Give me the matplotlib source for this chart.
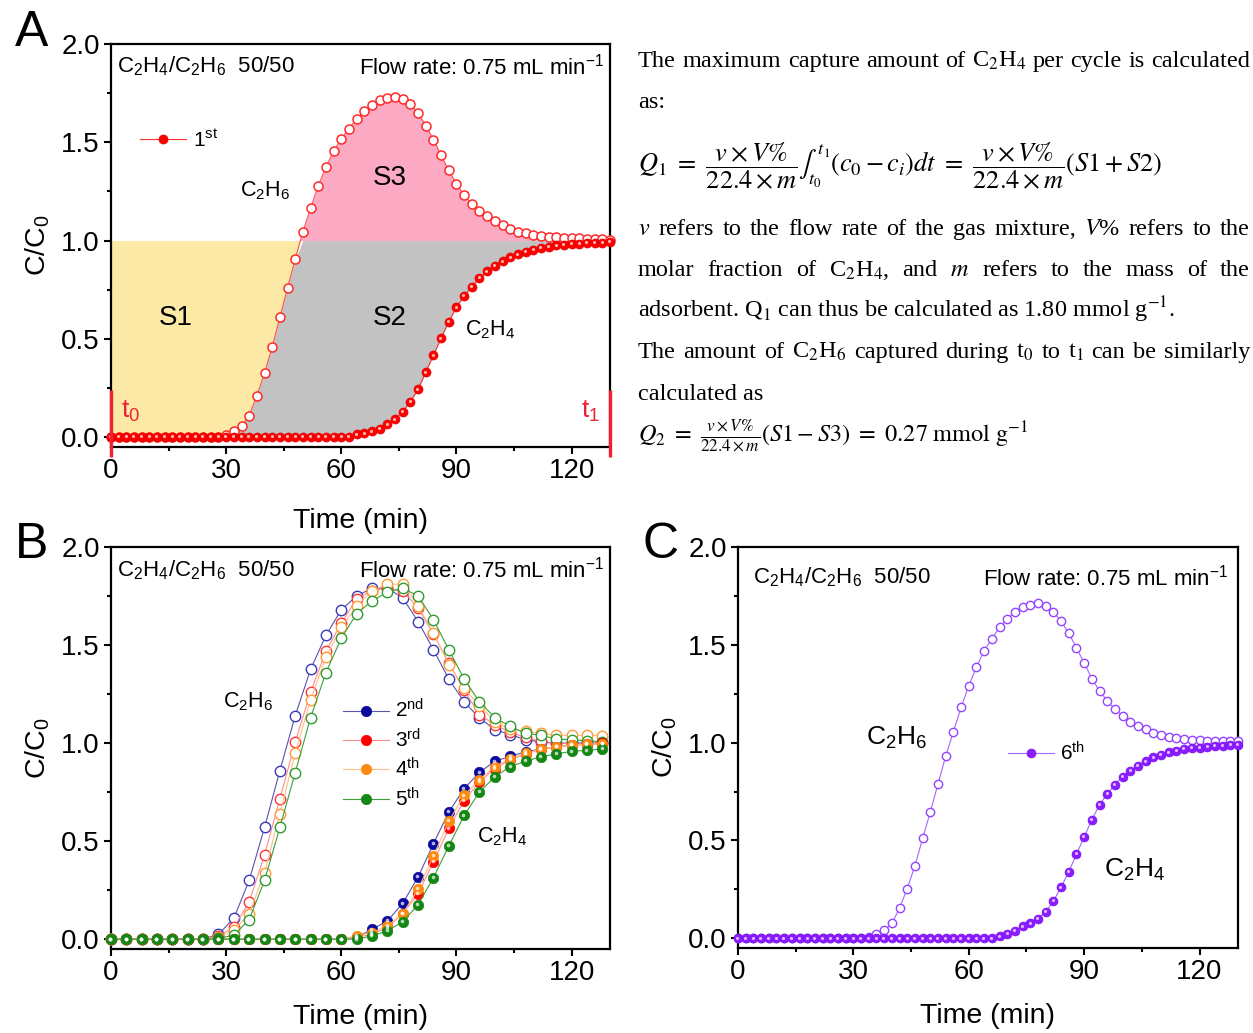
import matplotlib
matplotlib.use("Agg")
import matplotlib.pyplot as plt
import numpy as np
from matplotlib.ticker import MultipleLocator, FormatStrFormatter
from matplotlib.transforms import offset_copy

plt.rcParams['font.family'] = ['Liberation Sans', 'DejaVu Sans']
plt.rcParams['mathtext.fontset'] = 'custom'
plt.rcParams['mathtext.rm'] = 'Liberation Sans'
plt.rcParams['mathtext.it'] = 'Liberation Sans:italic'
plt.rcParams['mathtext.bf'] = 'Liberation Sans:bold'

# ---- panel A : 1st cycle (every 2 min)
time_a = [0, 2, 4, 6, 8, 10, 12, 14, 16, 18, 20, 22, 24, 26, 28, 30, 32, 34, 36, 38,
          40, 42, 44, 46, 48, 50, 52, 54, 56, 58, 60, 62, 64, 66, 68, 70, 72, 74, 76, 78,
          80, 82, 84, 86, 88, 90, 92, 94, 96, 98, 100, 102, 104, 106, 108, 110, 112, 114,
          116, 118, 120, 122, 124, 126, 128, 130]
c2h6_a = [0, 0, 0, 0, 0, 0, 0, 0, 0, 0, 0, 0, 0, 0, 0.003, 0.01, 0.03, 0.056, 0.11, 0.21,
          0.325, 0.46, 0.61, 0.76, 0.906, 1.046, 1.165, 1.28, 1.374, 1.456, 1.517, 1.57,
          1.62, 1.658, 1.692, 1.714, 1.726, 1.731, 1.719, 1.694, 1.65, 1.585, 1.514, 1.434,
          1.357, 1.289, 1.23, 1.187, 1.153, 1.124, 1.099, 1.08, 1.06, 1.046, 1.037, 1.029,
          1.022, 1.019, 1.017, 1.014, 1.013, 1.012, 1.01, 1.01, 1.007, 1.004]
c2h4_a = [0, 0, 0, 0, 0, 0, 0, 0, 0, 0, 0, 0, 0, 0, 0, 0, 0, 0, 0, 0,
          0, 0, 0, 0, 0, 0, 0, 0, 0, 0, 0, 0.003, 0.014, 0.02, 0.03, 0.044, 0.065, 0.09,
          0.13, 0.18, 0.243, 0.33, 0.417, 0.503, 0.588, 0.66, 0.718, 0.765, 0.81, 0.843,
          0.872, 0.895, 0.915, 0.93, 0.944, 0.954, 0.963, 0.969, 0.976, 0.98, 0.983, 0.985,
          0.988, 0.99, 0.99, 0.992]
t_marks = [0, 130]

# ---- panel B : cycles 2-5 (every 4 min)
time_b = [0, 4, 8, 12, 16, 20, 24, 28, 32, 36, 40, 44, 48, 52, 56, 60, 64, 68, 72, 76,
          80, 84, 88, 92, 96, 100, 104, 108, 112, 116, 120, 124, 128]
c2h6_b = {
    '2nd': [0, 0, 0, 0, 0, 0, 0, 0.025, 0.107, 0.30, 0.57, 0.86, 1.14, 1.376, 1.55, 1.68,
            1.75, 1.79, 1.79, 1.74, 1.62, 1.476, 1.327, 1.21, 1.128, 1.069, 1.043, 1.018,
            1.005, 1.0, 1.0, 1.0, 1.0],
    '3rd': [0, 0, 0, 0, 0, 0, 0, 0.017, 0.06, 0.19, 0.43, 0.715, 1.005, 1.26, 1.47, 1.61,
            1.737, 1.777, 1.79, 1.775, 1.69, 1.556, 1.41, 1.27, 1.145, 1.094, 1.055, 1.03,
            1.01, 1.0, 0.995, 0.995, 1.0],
    '4th': [0, 0, 0, 0, 0, 0, 0, 0.01, 0.045, 0.13, 0.34, 0.64, 0.95, 1.22, 1.44, 1.59,
            1.70, 1.777, 1.81, 1.81, 1.70, 1.56, 1.40, 1.28, 1.19, 1.11, 1.07, 1.06, 1.05,
            1.04, 1.04, 1.04, 1.038],
    '5th': [0, 0, 0, 0, 0, 0, 0, 0.005, 0.02, 0.10, 0.30, 0.57, 0.85, 1.13, 1.36, 1.535,
            1.66, 1.725, 1.77, 1.79, 1.75, 1.63, 1.476, 1.327, 1.21, 1.13, 1.085, 1.05,
            1.04, 1.02, 1.018, 1.012, 1.006],
}
c2h4_b = {
    '2nd': [0, 0, 0, 0, 0, 0, 0, 0, 0, 0, 0, 0, 0, 0, 0, 0, 0.01, 0.05, 0.093, 0.183,
            0.317, 0.487, 0.648, 0.768, 0.851, 0.907, 0.933, 0.955, 0.97, 0.98, 0.99,
            0.995, 0.998],
    '3rd': [0, 0, 0, 0, 0, 0, 0, 0, 0, 0, 0, 0, 0, 0, 0, 0, 0.01, 0.025, 0.06, 0.13,
            0.232, 0.394, 0.565, 0.707, 0.802, 0.87, 0.915, 0.945, 0.968, 0.98, 0.99,
            0.995, 0.998],
    '4th': [0, 0, 0, 0, 0, 0, 0, 0, 0, 0, 0, 0, 0, 0, 0, 0, 0.017, 0.034, 0.068, 0.13,
            0.255, 0.424, 0.602, 0.733, 0.814, 0.88, 0.92, 0.947, 0.97, 0.98, 0.99,
            0.993, 0.996],
    '5th': [0, 0, 0, 0, 0, 0, 0, 0, 0, 0, 0, 0, 0, 0, 0, 0, 0.0, 0.017, 0.042, 0.09,
            0.175, 0.314, 0.475, 0.631, 0.751, 0.828, 0.88, 0.908, 0.93, 0.945, 0.958,
            0.963, 0.97],
}
cycle_labels = ['2nd', '3rd', '4th', '5th']
cycle_tex = {'2nd': r'2$^{\rm nd}$', '3rd': r'3$^{\rm rd}$', '4th': r'4$^{\rm th}$', '5th': r'5$^{\rm th}$'}

# ---- panel C : 6th cycle (every 2 min)
time_c = time_a
c2h6_c = [0, 0, 0, 0, 0, 0, 0, 0, 0, 0, 0, 0, 0, 0, 0, 0, 0, 0.008, 0.022, 0.04,
          0.076, 0.153, 0.254, 0.37, 0.51, 0.645, 0.789, 0.93, 1.056, 1.18, 1.29, 1.386,
          1.47, 1.53, 1.59, 1.634, 1.668, 1.693, 1.705, 1.712, 1.70, 1.668, 1.62, 1.56,
          1.484, 1.408, 1.327, 1.264, 1.213, 1.17, 1.136, 1.106, 1.086, 1.068, 1.051,
          1.038, 1.03, 1.023, 1.018, 1.014, 1.012, 1.009, 1.009, 1.009, 1.009, 1.009]
c2h4_c = [0, 0, 0, 0, 0, 0, 0, 0, 0, 0, 0, 0, 0, 0, 0, 0, 0, 0, 0, 0,
          0, 0, 0, 0, 0, 0, 0, 0, 0, 0, 0, 0, 0, 0, 0.01, 0.022, 0.037, 0.06, 0.076, 0.098,
          0.136, 0.19, 0.26, 0.34, 0.43, 0.517, 0.606, 0.682, 0.738, 0.785, 0.826, 0.857,
          0.882, 0.904, 0.925, 0.938, 0.95, 0.958, 0.967, 0.972, 0.975, 0.979, 0.984,
          0.985, 0.987, 0.987]

colors_b = {'2nd': ('#5555b0', '#0a0a9c', '#3a3ab8'),
            '3rd': ('#ff8c8c', '#ff0000', '#ff3535'),
            '4th': ('#ffbd80', '#ff8a10', '#ff9a35'),
            '5th': ('#3aa03a', '#138613', '#2f9c2f')}

W, H = 1253, 1033
fig = plt.figure(figsize=(W / 100, H / 100), dpi=100)


def style_axis(ax, head_y=0.945, head_l=0.012, head_r=0.988, xpad=17):
    ax.set_xlim(0, 130)
    ax.set_ylim(-0.05, 2.0)
    ax.xaxis.set_major_locator(MultipleLocator(30))
    ax.xaxis.set_minor_locator(MultipleLocator(15))
    ax.yaxis.set_major_locator(MultipleLocator(0.5))
    ax.yaxis.set_minor_locator(MultipleLocator(0.25))
    ax.yaxis.set_major_formatter(FormatStrFormatter('%.1f'))
    ax.tick_params(which='both', direction='out', top=False, right=False, width=1.5,
                   labelsize=20)
    ax.tick_params(which='major', length=5, pad=3)
    ax.tick_params(which='minor', length=3)
    for s in ax.spines.values():
        s.set_linewidth(1.6)
    ax.set_xlabel('Time (min)', fontsize=20.5, labelpad=xpad)
    ax.set_ylabel('C/C$_0$', fontsize=20.5, labelpad=7)
    ax.text(head_l, head_y, 'C$_2$H$_4$/C$_2$H$_6$  50/50', transform=ax.transAxes,
            fontsize=16, va='center', ha='left')
    ax.text(head_r, head_y, 'Flow rate: 0.75 mL min$^{-1}$', transform=ax.transAxes,
            fontsize=16, va='center', ha='right')


def highlight(ax, x, y, ms, z):
    tr = offset_copy(ax.transData, fig=fig, x=-0.5, y=0.5, units='points')
    ax.plot(x, y, 'o', ms=ms * 0.35, mfc='white', mec='none', alpha=0.7,
            transform=tr, zorder=z + 0.1, clip_on=False)


leg_kw = dict(loc='center left', frameon=False, fontsize=15, handlelength=2.2,
              handletextpad=0.3, borderpad=0, borderaxespad=0)

# ---------------- panel A
axA = fig.add_axes([111 / W, 1 - 447 / H, 499 / W, 403 / H])
style_axis(axA)
ta = np.array(time_a)
e6 = np.array(c2h6_a)
e4 = np.array(c2h4_a)
axA.fill_between(ta, e6, 1, where=e6 <= 1, interpolate=True, color='#fce9a6', lw=0, zorder=1)
axA.fill_between(ta, e4, np.minimum(e6, 1), color='#c2c2c2', lw=0, zorder=1)
axA.fill_between(ta, 1, e6, where=e6 >= 1, interpolate=True, color='#fcaac4', lw=0, zorder=1)
axA.plot(ta, e6, '-o', color='#ff5050', lw=0.8, ms=6.5, mfc='white', mec='#ff2a2a',
         mew=1.1, zorder=3, clip_on=False)
axA.plot(ta, e4, '-o', color='#ff3030', lw=0.8, ms=6.5, mfc='#ff0000', mec='#e00000',
         mew=0.5, zorder=4, label=r'1$^{\rm st}$', clip_on=False)
highlight(axA, ta, e4, 6.5, 4)
axA.vlines(t_marks, -0.1, 0.24, color='#ee2233', lw=2.4, clip_on=False, zorder=5)
axA.text(5.0, 0.13, 't$_0$', color='#ee2233', fontsize=19, ha='center', va='center')
axA.text(125.0, 0.13, 't$_1$', color='#ee2233', fontsize=19, ha='center', va='center')
axA.text(40.1, 1.256, 'C$_2$H$_6$', fontsize=15.5, ha='center', va='center')
axA.text(98.7, 0.545, 'C$_2$H$_4$', fontsize=15.5, ha='center', va='center')
axA.text(72.6, 1.32, 'S3', fontsize=20, ha='center', va='center')
axA.text(16.9, 0.605, 'S1', fontsize=20, ha='center', va='center')
axA.text(72.6, 0.605, 'S2', fontsize=20, ha='center', va='center')
axA.legend(bbox_to_anchor=(0.059, 0.762), **leg_kw)

# ---------------- panel B
axB = fig.add_axes([111 / W, 1 - 949 / H, 499 / W, 402 / H])
style_axis(axB, head_y=0.943, xpad=13)
for k in cycle_labels:
    lc, fc, oc = colors_b[k]
    axB.plot(time_b, c2h6_b[k], '-o', color=lc, lw=0.8, ms=7.5, mfc='white', mec=oc,
             mew=1.0, zorder=3, clip_on=False)
for k in cycle_labels:
    lc, fc, oc = colors_b[k]
    axB.plot(time_b, c2h4_b[k], '-o', color=lc, lw=0.8, ms=7.5, mfc=fc, mec=fc,
             mew=0.5, zorder=4, label=cycle_tex[k], clip_on=False)
    highlight(axB, time_b, c2h4_b[k], 7.5, 4)
axB.text(35.7, 1.21, 'C$_2$H$_6$', fontsize=15.5, ha='center', va='center')
axB.text(102, 0.525, 'C$_2$H$_4$', fontsize=15.5, ha='center', va='center')
axB.legend(bbox_to_anchor=(0.465, 0.484), labelspacing=0.3, **leg_kw)

# ---------------- panel C
axC = fig.add_axes([738 / W, 1 - 948 / H, 500 / W, 401 / H])
style_axis(axC, head_y=0.925, head_l=0.03, head_r=0.98, xpad=13)
axC.plot(time_c, c2h6_c, '-o', color='#a565ff', lw=0.8, ms=6.0, mfc='white', mec='#9444ff',
         mew=1.0, zorder=3, clip_on=False)
axC.plot(time_c, c2h4_c, '-o', color='#a565ff', lw=0.8, ms=6.4, mfc='#8a1cff', mec='#7a10f0',
         mew=0.5, zorder=4, label=r'6$^{\rm th}$', clip_on=False)
highlight(axC, time_c, c2h4_c, 6.4, 4)
axC.text(41.1, 1.025, 'C$_2$H$_6$', fontsize=19, ha='center', va='center')
axC.text(103.2, 0.35, 'C$_2$H$_4$', fontsize=19, ha='center', va='center')
axC.legend(bbox_to_anchor=(0.54, 0.487), **leg_kw)

# panel letters
fig.text(32 / W, 1 - 33 / H, 'A', fontsize=36, ha='center', va='center')
fig.text(32 / W, 1 - 545 / H, 'B', fontsize=36, ha='center', va='center')
fig.text(661 / W, 1 - 545 / H, 'C', fontsize=36, ha='center', va='center')

# ---------------- text on the right
renderer = fig.canvas.get_renderer()
serif = dict(family=['Liberation Serif', 'DejaVu Serif'], fontsize=17.5, math_fontfamily='stix',
             va='baseline', ha='left')
X0, X1 = 638, 1250


def line(txt, base):
    return fig.text(X0 / W, 1 - base / H, txt, **serif)


def justified(words, base):
    texts = [fig.text(0, 1 - base / H, w, **serif) for w in words]
    widths = [t.get_window_extent(renderer).width for t in texts]
    gap = (X1 - X0 - sum(widths)) / (len(words) - 1)
    x = X0
    for t, w in zip(texts, widths):
        t.set_x(x / W)
        x += w + gap


justified('The maximum capture amount of C$_2$H$_4$ per cycle is calculated'.split(), 67)
line('as:', 108)
fig.text(X0 / W, 1 - 172 / H,
         r'$Q_1\ =\ \dfrac{v \times V\%}{22.4 \times m}\int_{t_0}^{t_1}(c_0 - c_i)dt'
         r'\ =\ \dfrac{v \times V\%}{22.4 \times m}(S1 + S2)$',
         family='Liberation Serif', fontsize=19, math_fontfamily='stix',
         va='baseline', ha='left')
justified('$v$ refers to the flow rate of the gas mixture, $V$% refers to the'.split(), 235)
justified('molar fraction of C$_2$H$_4$, and $m$ refers to the mass of the'.split(), 276)
line('adsorbent. Q$_1$ can thus be calculated as 1.80 mmol g$^{-1}$.', 317)
justified('The amount of C$_2$H$_6$ captured during t$_0$ to t$_1$ can be similarly'.split(), 358)
line('calculated as', 400)
fig.text(X0 / W, 1 - 442 / H,
         r'$Q_2\ =\ \frac{v \times V\%}{22.4 \times m}(S1 - S3)\ =\ 0.27\ \mathrm{mmol\ g^{-1}}$',
         family='Liberation Serif', fontsize=17.5, math_fontfamily='stix',
         va='baseline', ha='left')

fig.savefig('out.png', dpi=100)
